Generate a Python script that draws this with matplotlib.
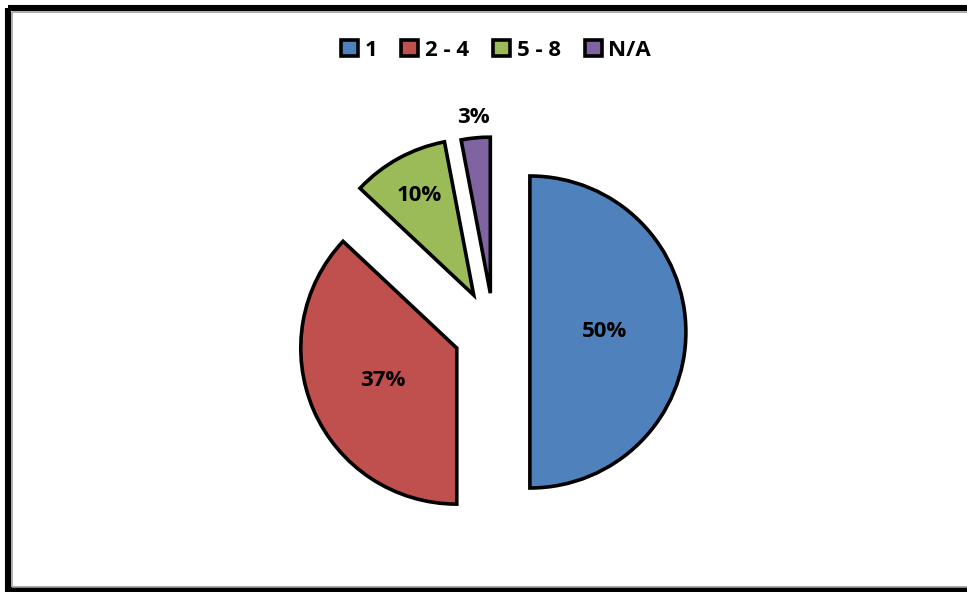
import matplotlib.pyplot as plt
from matplotlib.lines import Line2D
from matplotlib.patches import Patch
import numpy as np

# Share of responses per group
labels = ['1', '2 - 4', '5 - 8', 'N/A']
shares = [50, 37, 10, 3]
colors = ['#4F81BD', '#C0504D', '#9BBB59', '#8064A2']
explode = [0.23, 0.26, 0.27, 0.25]
label_dist = [0.48, 0.52, 0.73, 1.13]   # label position, in radii from the apex

W, H = 967, 592
CX, CY, R = 494, 332, 156   # pie centre and radius in pixels

plt.rcParams['font.family'] = ['Open Sans', 'DejaVu Sans']

fig = plt.figure(figsize=(W / 100, H / 100), dpi=100)
ax = fig.add_axes([0, 0, 1, 1])

wedges, _ = ax.pie(shares, colors=colors, explode=explode, startangle=90,
                   counterclock=False,
                   wedgeprops=dict(edgecolor='black', linewidth=2.6,
                                   joinstyle='miter'))

for w, val, d in zip(wedges, shares, label_dist):
    mid = np.deg2rad((w.theta1 + w.theta2) / 2)
    x = w.center[0] + d * w.r * np.cos(mid)
    y = w.center[1] + d * w.r * np.sin(mid)
    ax.text(x, y, f'{val}%', ha='center', va='center',
            fontsize=16, fontweight='bold', color='black')

ax.set_xlim(-CX / R, (W - CX) / R)
ax.set_ylim(-(H - CY) / R, CY / R)
ax.set_aspect('auto')
ax.axis('off')

handles = [Patch(facecolor=c, edgecolor='black', linewidth=2.6) for c in colors]
leg = fig.legend(handles, labels, loc='center', bbox_to_anchor=(496 / W, 1 - 50 / H),
                 ncol=4, frameon=False, handlelength=0.75, handleheight=0.75,
                 handletextpad=0.3, columnspacing=1.1,
                 prop=dict(size=16, weight='bold'))

# chart border: black frame with a thin grey inner line
for xs, ys, c, lw in [
        ([8, W + 5], [8, 8], 'black', 4.4),
        ([8, 8], [8, H + 5], 'black', 4.4),
        ([8, W + 5], [H - 2, H - 2], 'black', 4.4),
        ([11.5, W + 5], [11.5, 11.5], '#a0a0a0', 1.2),
        ([11.5, 11.5], [11.5, H - 5], '#a0a0a0', 1.2),
        ([11.5, W + 5], [H - 5, H - 5], '#a0a0a0', 1.2)]:
    fig.add_artist(Line2D([x / W for x in xs], [1 - y / H for y in ys],
                          color=c, linewidth=lw, transform=fig.transFigure,
                          solid_capstyle='butt'))

fig.savefig('out.png', dpi=100, facecolor='white')
